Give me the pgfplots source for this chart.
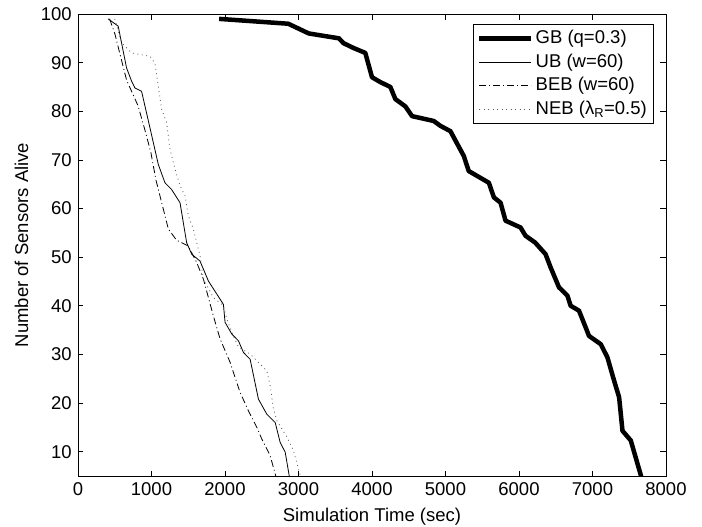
\documentclass[border=0pt]{standalone}
\usepackage{fontspec}
\setmainfont{Liberation Sans}
\usepackage{pgfplots}
\pgfplotsset{compat=1.18}
\begin{document}
\fontsize{18.5bp}{22bp}\selectfont
\begin{tikzpicture}
\path[use as bounding box] (-78bp,-51bp) rectangle (624bp,476bp);
\begin{axis}[
  scale only axis, width=588bp, height=462bp,
  xmin=0, xmax=8000, ymin=5, ymax=100,
  xtick={0,1000,...,8000}, ytick={10,20,...,100},
  scaled x ticks=false,
  /pgf/number format/assume math mode=true,
  /pgf/number format/1000 sep={},
  tick align=inside, major tick length=5.5bp,
  tick style={black, line width=0.7bp},
  axis line style={line width=0.9bp},
  xlabel={Simulation Time (sec)},
  ylabel={Number of Sensors Alive},
  every axis plot/.append style={mark=none, sharp plot, line join=round},
  legend style={at={(1,1)}, anchor=north east, xshift=-13bp, yshift=-10bp,
    draw=black, cells={anchor=west}, row sep=3.5bp, inner xsep=4bp, inner ysep=4bp},
  legend image code/.code={\draw[#1] (0bp,0bp) -- (52bp,0bp);},
]
\addplot[black, line width=4.5bp] coordinates {
(1920,99) (2860,98) (3140,96) (3550,95) (3613,94) (3750,93) (3909,92)
(4000,87) (4113,86) (4250,85) (4318,82.5) (4454,81) (4545,79) (4840,78)
(4931,77) (5067,75.9) (5249,70.8) (5317,67.7) (5590,65.3) (5658,62.3)
(5749,61.2) (5817,57.5) (6021,56.1) (6089,54.4) (6220,53.0) (6362,50.6)
(6430,47.9) (6544,43.8) (6658,42.1) (6703,40) (6816,39) (6953,33.8)
(7113,32.1) (7203,29.4) (7294,24.6) (7362,21.2) (7408,14.3) (7521,12.3)
(7670,4.5)
};
\addlegendentry{GB (q=0.3)}
\addplot[black, line width=0.8bp] coordinates {
(410,99) (547,97.5) (592,94.1) (661,88.9) (729,86.2) (774,84.8) (865,84.1)
(979,76.6) (1092,69.1) (1183,65.3) (1274,63.9) (1388,61.2) (1478,53)
(1547,50.6) (1660,49.2) (1774,45.1) (1978,40.3) (2001,36.6) (2092,34.2)
(2183,32.8) (2251,30.4) (2342,29) (2455,20.8) (2569,17.7) (2683,16)
(2751,11.9) (2819,9.9) (2880,4.5)
};
\addlegendentry{UB (w=60)}
\addplot[black, line width=0.8bp, dash pattern=on 7bp off 3bp on 1bp off 3bp] coordinates {
(430,99) (502,95.9) (661,86.4) (815,81.2) (906,76.4) (992,71.5) (1060,65.9)
(1147,60.7) (1229,55.8) (1340,53.5) (1500,52.3) (1615,48.9) (1706,45.5)
(1842,37.9) (1933,33.2) (2069,28.4) (2205,22.2) (2319,18.4) (2433,15)
(2501,12.6) (2614,9.2) (2700,4.5)
};
\addlegendentry{BEB (w=60)}
\addplot[black!65, line width=0.8bp, dash pattern=on 0.9bp off 3.6bp] coordinates {
(500,99) (592,94.1) (729,92) (979,91.3) (1047,89.9) (1092,85.2) (1138,80.4)
(1206,77.7) (1251,72.2) (1320,68.1) (1388,64.7) (1456,62.6) (1501,58.5)
(1569,55.8) (1615,53) (1660,50.3) (1706,45.5) (1842,41.7) (1978,40)
(2024,37.3) (2115,33.8) (2183,31.5) (2342,30.1) (2478,28) (2569,26.6)
(2614,23.6) (2660,18.8) (2706,16.4) (2842,13) (2932,10.2) (3035,4.5)
};
\addlegendentry{NEB (λ\textsubscript{R}=0.5)}
\end{axis}
\end{tikzpicture}
\end{document}
